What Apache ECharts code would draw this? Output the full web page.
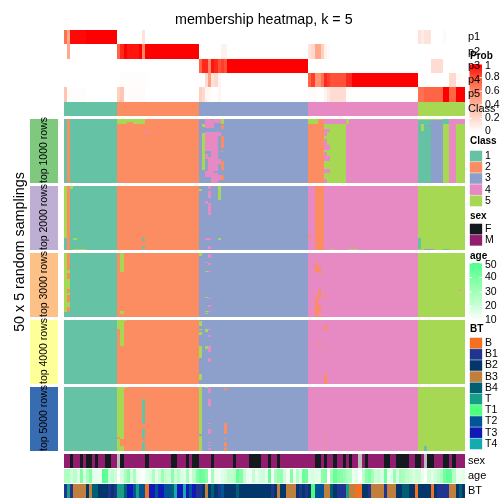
<!DOCTYPE html>
<html><head><meta charset="utf-8">
<style>html,body{margin:0;padding:0;background:#fff}#c{width:504px;height:504px}</style>
<script src="https://cdn.jsdelivr.net/npm/echarts@6/dist/echarts.min.js"></script>
</head><body><div id="c"></div>
<script>
// ---- data ----
const probNames = ['p1','p2','p3','p4','p5'];
const p1 = [.7,.45,.98,.98,.98,.98,.98,1,1,1,1,1,1,1,1,1,1,
 0,0,0,0,0,0,0,0,.15,0,0,0,0,0,0,0,0,0,0,0,0,0,0,0,0,0,
 0,0,0,0,0,0,0,0,0,0,0,0,0,0,0,0,0,0,0,0,0,0,0,0,0,0,0,0,0,0,0,0,0,0,0,
 0,0,0,0,0,0,0,0,0,0,0,0,0,0,0,0,0,0,0,0,0,0,0,0,0,0,0,0,0,0,0,0,0,0,0,
 .15,.1,.15,.15,0,0,0,0,.03,0,0,0,0,0,0];
const p2 = [0,.45,0,0,0,0,0,0,0,0,0,0,0,0,0,0,0,
 .75,.9,1,.95,.95,.95,.95,1,.6,1,1,1,1,1,1,1,1,1,1,1,1,1,1,1,1,1,
 0,0,0,0,0,0,0,.07,.07,0,0,0,0,0,0,0,0,0,0,0,0,0,0,0,0,0,0,0,0,0,0,0,0,0,0,
 .15,.2,.45,.45,.25,.07,.03,0,0,0,0,0,0,0,0,0,0,0,0,0,0,0,0,0,0,0,0,0,0,0,0,0,0,0,0,
 0,0,0,0,0,0,0,0,0,0,0,0,0,0,0];
const p3 = [0,0,0,0,0,0,0,0,0,0,0,0,0,0,0,0,0,
 0,0,0,0,0,0,0,0,0,0,0,0,0,0,0,0,0,0,0,0,0,0,0,0,0,0,
 .75,.9,.9,.6,.95,.9,.8,.85,.8,1,1,1,1,1,1,1,1,1,1,1,1,1,1,1,1,1,1,1,1,1,1,1,1,1,1,
 0,0,0,0,0,0,0,0,0,0,0,0,0,0,0,0,0,0,0,0,0,0,0,0,0,0,0,0,0,0,0,0,0,0,0,
 0,0,0,0,.18,.18,.18,.18,0,0,0,0,0,0,0];
const p4 = [0,0,0,0,0,0,0,0,0,0,0,0,0,0,0,0,0,
 0,.01,.01,.01,.01,.01,.01,.01,.01,.01,0,0,0,0,0,0,0,0,0,0,0,0,0,0,0,0,
 0,0,.2,.5,.15,.2,.05,0,0,0,0,0,0,0,0,0,0,0,0,0,0,0,0,0,0,0,0,0,0,0,0,0,0,0,0,
 .75,.85,.55,.55,.7,.9,.85,.8,.8,.8,.8,.8,.9,.9,1,1,1,1,1,1,1,1,1,1,1,1,1,1,1,1,1,1,1,1,1,
 0,0,0,0,0,0,0,0,0,0,.2,.2,.03,.03,0];
const p5 = [.3,.01,.01,.01,.01,.01,.01,0,0,0,0,0,0,0,0,0,0,
 .25,.3,.02,.02,.02,.02,.02,.02,.02,0,0,0,0,0,0,0,0,0,0,0,0,0,0,0,0,0,
 .25,.2,.05,.03,0,0,.05,0,0,0,0,0,0,0,0,0,0,0,0,0,0,0,0,0,0,0,0,0,0,0,0,0,0,0,0,
 .02,.02,.01,0,0,.06,.12,.18,.18,.18,.18,.18,.01,.01,0,0,0,0,0,0,0,0,0,0,0,0,0,0,0,0,0,0,0,0,0,
 .7,.7,.75,.75,.75,.75,.75,.75,1,1,.75,.75,1,1,1];
const classRuns = [[0,16,1],[17,42,2],[43,77,3],[78,112,4],[113,127,5]];
const groupNames = ['top 1000 rows','top 2000 rows','top 3000 rows','top 4000 rows','top 5000 rows'];
// patches: [rowFrom,rowTo,colFrom,colTo,class], applied in order
const patches1000 = [
 [0,49,1,1,2],[0,3,17,19,5],[0,1,20,21,5],[0,3,22,25,5],[9,10,26,26,4],
 [4,5,44,44,5],[11,39,44,44,5],[0,6,45,46,4],[1,6,47,47,4],[0,2,48,49,4],
 [10,20,45,48,4],[20,24,45,46,4],[20,30,47,48,4],[27,30,45,45,4],[30,40,46,48,4],[41,44,45,47,4],[42,49,47,48,4],[10,12,49,49,4],[31,34,49,49,4],[44,47,49,49,4],
 [0,3,50,50,5],[5,7,50,50,2],[13,22,50,50,2],[25,25,50,50,2],[33,39,50,50,2],[44,47,50,50,2],
 [0,3,78,80,5],[4,49,78,82,2],[0,3,81,82,2],
 [4,7,83,83,5],[4,49,84,89,5],[8,9,84,84,4],[13,15,83,83,5],[20,23,83,84,4],[24,25,83,83,5],[29,32,83,84,4],[33,38,83,83,5],[39,41,83,84,4],[42,46,83,83,5],[47,49,83,83,4],[0,3,90,90,5],
 [1,49,113,116,1],[4,8,114,114,5],[5,5,116,116,3],[1,49,117,120,3],[4,49,121,122,5],[0,3,121,122,1],[0,49,123,124,4],[4,49,125,127,5],[0,3,125,127,4]
];
const patches2000 = [
 [0,40,0,0,5],[0,49,1,1,2],[0,1,2,2,5],[41,41,3,3,5],[49,49,3,6,5],[41,42,25,25,1],[47,48,25,25,1],
 [2,3,43,43,5],[12,13,45,45,4],[0,1,46,46,4],[4,8,46,46,4],[13,22,46,46,4],[41,41,46,46,4],[47,48,46,46,4],[41,41,45,45,4],
 [0,3,49,49,5],[4,10,49,49,5],[41,41,49,49,5],
 [0,49,80,82,2],[38,40,78,78,2],[49,49,85,85,5],[49,49,91,93,5],
 [41,48,113,113,1],[49,49,115,117,3],[49,49,121,122,1]
];
const patches3000 = [
 [0,45,0,0,5],[0,45,1,1,5],[0,7,1,1,2],[8,12,1,1,2],[16,19,1,1,2],[28,30,1,1,2],[33,37,1,1,2],[42,45,1,1,2],
 [0,14,18,18,5],[45,47,18,18,5],[0,1,43,43,5],
 [7,7,45,45,4],[1,3,46,46,4],[8,8,46,46,4],[14,14,45,45,5],[14,14,46,46,4],[34,34,45,45,5],[35,35,46,46,4],[41,41,46,46,4],[45,45,45,45,5],[45,45,46,46,4],[47,47,45,45,5],
 [8,14,80,80,2],[11,14,81,81,2],[15,15,81,82,2],[28,35,81,81,2],[33,33,83,83,2],[34,49,80,80,2],[41,46,81,81,2],[49,49,81,82,2],[29,29,126,126,4]
];
const patches4000 = [
 [0,6,17,18,5],[7,19,18,18,5],[0,0,19,19,5],
 [1,3,43,43,5],[4,4,43,43,5],[7,7,43,43,5],[9,11,43,43,5],[20,29,43,43,5],[42,46,43,43,5],
 [7,8,45,45,5],[20,22,45,45,5],[7,7,46,46,4],[12,12,46,46,4],[20,21,46,46,4],[22,24,46,46,4],[30,32,46,46,4],
 [7,7,81,81,2],[4,7,83,83,2],[19,19,81,81,2],[22,22,83,83,2],[42,49,83,83,2]
];
const patches5000 = [
 [0,39,17,18,5],[0,0,19,19,5],[39,40,17,17,2],[39,40,18,18,5],[41,46,17,17,5],[41,46,18,18,2],[46,49,17,18,5],
 [9,28,25,25,1],[33,39,25,25,1],[40,40,25,25,1],[43,46,25,25,1],[47,49,25,25,1],
 [0,36,43,43,5],[38,49,43,43,5],[0,0,45,45,5],[1,4,46,46,4],[9,14,46,46,4],[28,28,46,46,4],[33,36,46,46,4],[43,43,46,46,4],[45,45,46,46,4],[48,48,46,46,4],
 [1,1,51,51,2],[28,36,51,51,2],[40,40,51,51,2],[43,46,51,51,2],[48,49,51,51,2],
 [38,38,83,83,2],[45,45,83,83,2],[49,49,83,83,2],[46,49,115,115,1]
];
const sexValues = ['M','M','F','M','M','F','M','F','F','M','F','M','M','F','F','M','M','NA',
 'F','M','M','M','M','M','M','M','F','M','M','M','M','M','M','M','F','F','M','M','M','F','M','F','F',
 'M','M','M','M','F','M','M','M','M','M','M','F','M','M','M','M','F','F','F','F','M','M','F','M','M','F','M',
 'M','M','M','M','M','M','M','M','M','M','F','F','M','F','M','M','F','M','M','F','M','F','M','M','NA','M','F',
 'M','M','M','M','M','F','F','M','M','F','F','F','F','M','M','F','F','M','NA','F','F','M','M','M','F','F','M','F','M','M','M'];
const ageValues = [27,27,20,25,17,38,18,28,38,15,15,14,48,46,20,24,20,0,
 18,28,36,18,28,14,12,11,15,18,27,16,20,32,22,20,36,20,26,18,16,30,14,24,38,
 44,42,36,0,30,14,13,16,18,24,22,26,44,38,22,14,13,22,14,18,20,14,44,12,28,34,34,20,12,38,14,26,18,44,42,
 16,18,16,16,36,38,0,30,44,38,36,34,28,26,14,16,0,24,36,40,30,20,22,18,42,14,16,34,18,30,28,24,22,18,20,
 20,14,0,20,16,20,24,28,42,46,44,26,14,14,16];
const btValues = ['B1','T','B1','B3','B3','B3','B3','B2','B3','B4','B4','B2','B2','B2','B1','B2','B1','T',
 'T','B4','T3','T3','T2','T','T2','T2','B','T3','T3','T2','T3','T3','T2','T2','B4','T4','T3','T3','T4','T3','T2','T3','B1',
 'B1','B2','B3','B2','B4','B2','B1','T2','B2','B2','B2','B2','B4','B2','B2','B2','B2','B2','B2','B2','B2','B2','B2','B1','B2','B3','B2','B2','B3','B3','B3','B2','B1','B2','B1',
 'B2','T1','T2','T2','T2','B3','B3','B4','B2','B1','B1','B1','T','B3','B3','B','B','B2','B2','B1','B3','B3','B3','B3','B1','B3','B3','B3','B2','B2','B4','B4','B2','B2','B',
 'B2','B2','B2','B2','B','B2','B1','B1','B1','B1','B3','B3','B2','B4','B2'];

const classColors = ['#66C2A5','#FC8D62','#8DA0CB','#E78AC3','#A6D854'];
const classLabels = ['1','2','3','4','5'];
const sexNames = ['F','M'];
const sexColors = ['#141A1E','#921D6E'];
const naColor = '#BEBEBE';
const btNames = ['B','B1','B2','B3','B4','T','T1','T2','T3','T4'];
const btColors = ['#F37021','#1F3590','#03376B','#C17F3E','#005F73','#16A085','#4DFF7F','#005596','#1018B8','#14ABB0'];
const blockColors = ['#7FC97F','#BEAED4','#FDC086','#FFFF99','#386CB0'];
const probStops = ['#ffffff','#ffcfc0','#ff9e81','#ff6545','#ff0000'];
const ageStops = ['#ffffff','#ccffd8','#a3ffb8','#7affa2','#4dff90'];
const probTicks = [1,.8,.6,.4,.2,0];
const ageTicks = [50,40,30,20,10];

// ---- layout ----
const L = 64, W = 401, N = 128, FONT = 'Liberation Sans';
const groupTops = [119,186,253,320,387];
const cols = []; for (let i=0;i<N;i++) cols.push(i);
const ROWS = []; for (let i=0;i<50;i++) ROWS.push(i);

// cells snap to whole pixels so neighbouring cells leave no seam
function renderCell(params, api){
  const p = api.coord([api.value(0), api.value(1)]);
  const s = api.size([1,1]);
  const x0 = Math.round(p[0]-s[0]/2), x1 = Math.round(p[0]+s[0]/2);
  const y0 = Math.round(p[1]-s[1]/2), y1 = Math.round(p[1]+s[1]/2);
  return {type:'rect', shape:{x:x0,y:y0,width:x1-x0,height:y1-y0}, style:{fill:api.visual('color')}};
}

const grids=[], xAxes=[], yAxes=[], series=[];
function add(top, h, ylist, data, name){
  const i = grids.length;
  grids.push({left:L, top, width:W, height:h});
  xAxes.push({type:'category', gridIndex:i, data:cols, show:false});
  yAxes.push({type:'category', gridIndex:i, data:ylist, show:false, inverse:true});
  series.push({type:'custom', name, xAxisIndex:i, yAxisIndex:i, data, renderItem:renderCell, encode:{x:0,y:1}, progressive:0, animation:false, silent:true, clip:false});
  return i;
}
const colClass = c => classRuns.find(r => c>=r[0] && c<=r[1])[2];

const probData = [];
[p1,p2,p3,p4,p5].forEach((arr,r)=>arr.forEach((v,c)=>probData.push([c,r,v])));
const sProb = add(30,71.5,probNames,probData,'Prob');
const sClass = add(102,14,['Class'],cols.map(c=>[c,0,colClass(c)]),'Class');
const sMain = [];
[patches1000,patches2000,patches3000,patches4000,patches5000].forEach((patches,g)=>{
  const m = ROWS.map(()=>cols.map(colClass));
  patches.forEach(([r0,r1,c0,c1,k])=>{ for(let r=r0;r<=r1;r++) for(let c=c0;c<=c1;c++) m[r][c]=k; });
  const d=[]; m.forEach((row,r)=>row.forEach((k,c)=>d.push([c,r,k])));
  sMain.push(add(groupTops[g],64,ROWS,d,groupNames[g]));
});
const sSex = add(454,14,['sex'],sexValues.map((v,c)=>[c,0,sexNames.indexOf(v)]),'sex');
const sAge = add(469,14,['age'],ageValues.map((v,c)=>[c,0,v]),'age');
const sBT = add(484,14,['BT'],btValues.map((v,c)=>[c,0,btNames.indexOf(v)]),'BT');

const visualMap = [
 {type:'continuous',show:false,dimension:2,seriesIndex:[sProb],min:0,max:1,inRange:{color:probStops}},
 {type:'piecewise',show:false,dimension:2,seriesIndex:[sClass,...sMain],pieces:classColors.map((color,i)=>({value:i+1,color}))},
 {type:'piecewise',show:false,dimension:2,seriesIndex:[sSex],pieces:[{value:-1,color:naColor},...sexColors.map((color,i)=>({value:i,color}))]},
 {type:'continuous',show:false,dimension:2,seriesIndex:[sAge],min:10,max:50,inRange:{color:ageStops},outOfRange:{color:naColor}},
 {type:'piecewise',show:false,dimension:2,seriesIndex:[sBT],pieces:btColors.map((color,i)=>({value:i,color}))}
];

// ---- text, legends and side blocks ----
const g=[];
const txt=(x,y,text,size,o={})=>g.push({type:'text',x,y,z:o.z||10,rotation:o.rot||0,
  style:{text,fontFamily:FONT,fontSize:size,fontWeight:o.bold?'bold':'normal',fill:'#000',align:o.align||'left',verticalAlign:'middle'}});
const rect=(x,y,w,h,fill,stroke)=>g.push({type:'rect',z:5,shape:{x,y,width:w,height:h},style:{fill,stroke:stroke||null,lineWidth:1}});

groupTops.forEach((t,i)=>{
  rect(30,t,28,64,blockColors[i]);
  txt(44.5,t+31,groupNames[i],10.5,{rot:Math.PI/2,align:'center',z:11});
});
txt(20,252,'50 x 5 random samplings',14.3,{rot:Math.PI/2,align:'center'});

const rightLabels=[['p1',37],['p2',51.5],['p3',66],['p4',80],['p5',94],['Class',108.5],['sex',461],['age',476],['BT',491]];
rightLabels.forEach(([t,y])=>txt(468,y,t,11));

function colorbar(y0,y1,stops,ticks,min,max){
  g.push({type:'rect',z:6,shape:{x:469.5,y:y0,width:12.5,height:y1-y0},style:{fill:new echarts.graphic.LinearGradient(0,1,0,0,stops.map((color,i)=>({offset:i/(stops.length-1),color})))}});
  ticks.forEach(v=>{
    const y=y1-(v-min)/(max-min)*(y1-y0);
    g.push({type:'rect',z:7,shape:{x:469.5,y:y-.5,width:2.5,height:1},style:{fill:'#fff'}});
    g.push({type:'rect',z:7,shape:{x:479.5,y:y-.5,width:2.5,height:1},style:{fill:'#fff'}});
    txt(485,Math.min(Math.max(y,y0+2),y1-1),String(v),10.5,{z:12});
  });
}
txt(470,56,'Prob',10,{bold:true,z:12});
colorbar(64,132,probStops,probTicks,0,1);
const swatches=(labels,colors,y0)=>labels.forEach((t,i)=>{
  const y=y0+i*11.2;
  rect(470,y+.4,12,10.4,colors[i],colors[i]+'55');
  txt(485,y+5.6,t,10.5);
});
txt(470,141,'Class',10,{bold:true});
swatches(classLabels,classColors,150.5);
txt(470,216,'sex',10,{bold:true});
swatches(sexNames,sexColors,223.5);
txt(470,256,'age',10,{bold:true});
colorbar(263,321,ageStops,ageTicks,10,50);
txt(470,329,'BT',10,{bold:true});
swatches(btNames,btColors,337.5);

const chart=echarts.init(document.getElementById('c'),null,{renderer:'canvas'});
chart.setOption({
  animation:false,backgroundColor:'#fff',
  title:{text:'membership heatmap, k = 5',left:175,top:13,padding:0,
    textStyle:{fontFamily:FONT,fontSize:14.3,fontWeight:'normal',color:'#000'}},
  grid:grids,xAxis:xAxes,yAxis:yAxes,visualMap,series,graphic:g
});
</script></body></html>
